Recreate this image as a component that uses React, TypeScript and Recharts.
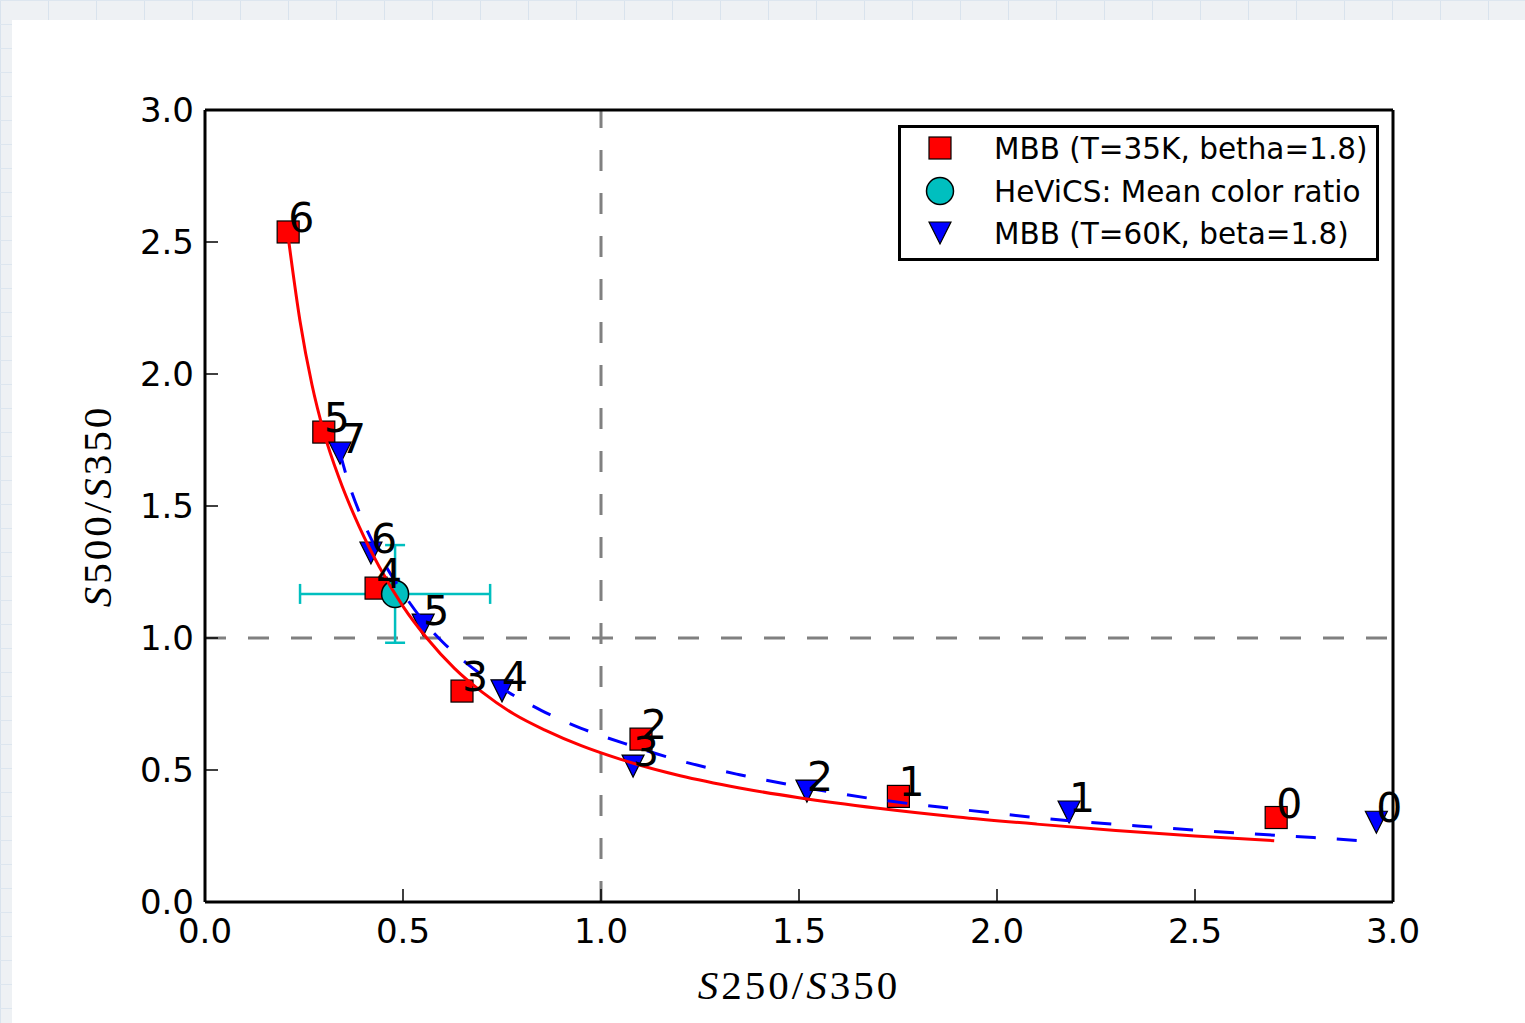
import React from "react";
import { ScatterChart, Scatter, XAxis, YAxis, ReferenceLine, ErrorBar, Legend } from "recharts";

const axisTicks = [0, 0.5, 1, 1.5, 2, 2.5, 3];

// MBB (T=35K, betha=1.8) markers
const mbb35X = [0.21, 0.3, 0.432, 0.649, 1.101, 1.751, 2.705];
const mbb35Y = [2.538, 1.78, 1.189, 0.799, 0.617, 0.4, 0.32];
const mbb35Tags = ["6", "5", "4", "3", "2", "1", "0"];

// MBB (T=60K, beta=1.8) markers
const mbb60X = [0.341, 0.419, 0.551, 0.75, 1.081, 1.52, 2.182, 2.958];
const mbb60Y = [1.7, 1.322, 1.049, 0.8, 0.515, 0.42, 0.341, 0.302];
const mbb60Tags = ["7", "6", "5", "4", "3", "2", "1", "0"];

// model curves
const curve35X = [0.21, 0.24, 0.27, 0.3, 0.34, 0.39, 0.44, 0.5, 0.56, 0.63, 0.7, 0.78, 0.86, 0.95, 1.05, 1.2, 1.35, 1.5, 1.7, 1.9, 2.1, 2.3, 2.5, 2.7];
const curve35Y = [2.52, 2.2, 1.96, 1.78, 1.6, 1.42, 1.27, 1.12, 1.0, 0.885, 0.795, 0.712, 0.65, 0.592, 0.54, 0.478, 0.432, 0.395, 0.355, 0.322, 0.295, 0.271, 0.25, 0.232];
const curve60X = [0.341, 0.36, 0.4, 0.45, 0.5, 0.551, 0.6, 0.66, 0.75, 0.85, 0.95, 1.081, 1.2, 1.35, 1.52, 1.7, 1.9, 2.182, 2.4, 2.6, 2.8, 2.958];
const curve60Y = [1.7, 1.6, 1.44, 1.29, 1.17, 1.065, 0.985, 0.905, 0.81, 0.725, 0.658, 0.59, 0.535, 0.482, 0.432, 0.388, 0.352, 0.308, 0.283, 0.262, 0.244, 0.228];

// HeViCS mean colour ratio with errors
const meanX = [0.48];
const meanY = [1.167];
const meanErrX = [0.24];
const meanErrY = [0.185];

const legendLabels = ["MBB (T=35K, betha=1.8)", "HeViCS: Mean color ratio", "MBB (T=60K, beta=1.8)"];

const RED = "#ff0000";
const BLUE = "#0000ff";
const CYAN = "#00bfbf";

const pts = (xs: number[], ys: number[], tags?: string[]) =>
  xs.map((x, i) => ({ x, y: ys[i], tag: tags ? tags[i] : "" }));

const squares = pts(mbb35X, mbb35Y, mbb35Tags);
const triangles = pts(mbb60X, mbb60Y, mbb60Tags);
const curve35 = pts(curve35X, curve35Y);
const curve60 = pts(curve60X, curve60Y);
const mean = meanX.map((x, i) => ({ x, y: meanY[i], ex: meanErrX[i], ey: meanErrY[i] }));

const Square = (p: any) => (
  <rect x={p.cx - 11} y={p.cy - 11} width={22} height={22} fill={RED} stroke='#000' strokeWidth={1.2} />
);
const TriDown = (p: any) => (
  <polygon
    points={`${p.cx - 11},${p.cy - 11} ${p.cx + 11},${p.cy - 11} ${p.cx},${p.cy + 11}`}
    fill={BLUE}
    stroke='#000'
    strokeWidth={1.2}
  />
);
const Dot = (p: any) => <circle cx={p.cx} cy={p.cy} r={13.5} fill={CYAN} stroke='#000' strokeWidth={1.5} />;
const Tag = (p: any) => (
  <text x={p.cx} y={p.cy} fontSize={41} fontFamily='DejaVu Sans' fill='#000'>
    {p.payload.tag}
  </text>
);
const NoShape = () => <g />;

const mathFont = { fontFamily: "Liberation Serif", fontSize: 41, fill: "#000", letterSpacing: 3 };

const ratioLabel = (a: string, b: string) => [
  <tspan key='s1' fontStyle='italic'>S</tspan>,
  <tspan key='n1'>{a}</tspan>,
  <tspan key='sl'>/</tspan>,
  <tspan key='s2' fontStyle='italic'>S</tspan>,
  <tspan key='n2'>{b}</tspan>,
];

const xLabel = (props: any) => {
  const vb = props.viewBox || { x: 205, y: 902, width: 1188 };
  return (
    <text x={vb.x + vb.width / 2} y={vb.y + 97} textAnchor='middle' {...mathFont}>
      {ratioLabel("250", "350")}
    </text>
  );
};

const yLabel = (props: any) => {
  const vb = props.viewBox || { x: 85, y: 110, height: 792 };
  const x = vb.x + 26;
  const y = vb.y + vb.height / 2;
  return (
    <text x={x} y={y} transform={`rotate(-90, ${x}, ${y})`} textAnchor='middle' {...mathFont}>
      {ratioLabel("500", "350")}
    </text>
  );
};

const legendIcons = [
  <rect key='a' x={28} y={9} width={22} height={22} fill={RED} stroke='#000' strokeWidth={1.2} />,
  <circle key='b' cx={39} cy={63} r={13.5} fill={CYAN} stroke='#000' strokeWidth={1.5} />,
  <polygon key='c' points='28,94 50,94 39,116' fill={BLUE} stroke='#000' strokeWidth={1.2} />,
];

const LegendBox = () => (
  <div style={{ boxSizing: "border-box", width: 481, height: 136, border: "3px solid #000", background: "#fff" }}>
    <svg width={475} height={130} style={{ display: "block" }}>
      {legendIcons}
      {legendLabels.map((l, i) => (
        <text key={l} x={93} y={31 + i * 42.5} fontSize={29.5} fontFamily='DejaVu Sans' fill='#000'>
          {l}
        </text>
      ))}
    </svg>
  </div>
);

const axisLine = { stroke: "#000", strokeWidth: 3 };
const tickLine = { stroke: "#000", strokeWidth: 1.5 };
const tickStyle = { fontSize: 34, fill: "#000", fontFamily: "DejaVu Sans" };
const fmt = (v: number) => v.toFixed(1);

export default function App() {
  return (
    <div
      style={{
        position: "absolute",
        left: 0,
        top: 0,
        width: 1525,
        height: 1023,
        overflow: "hidden",
        backgroundColor: "#eef1f4",
        backgroundImage:
          "linear-gradient(#dde6ef 1px, transparent 1px), linear-gradient(90deg, #d9e3ed 1px, transparent 1px)",
        backgroundSize: "48px 24px",
      }}
    >
      <div style={{ position: "absolute", left: 12, top: 20, width: 1513, height: 1003, background: "#fff" }} />
      <div style={{ position: "absolute", left: 0, top: 0 }}>
        <ScatterChart width={1525} height={1023} margin={{ top: 100, right: 122, bottom: 61, left: 85 }}>
          <XAxis
            xAxisId='b'
            type='number'
            dataKey='x'
            domain={[0, 3]}
            ticks={axisTicks}
            interval={0}
            height={60}
            tickSize={-13}
            tickMargin={30}
            axisLine={axisLine}
            tickLine={tickLine}
            tick={tickStyle}
            tickFormatter={fmt}
            label={xLabel}
          />
          <XAxis
            xAxisId='t'
            orientation='top'
            type='number'
            dataKey='x'
            domain={[0, 3]}
            ticks={axisTicks}
            interval={0}
            height={10}
            tickSize={-13}
            axisLine={axisLine}
            tickLine={tickLine}
            tick={false}
          />
          <YAxis
            yAxisId='l'
            type='number'
            dataKey='y'
            domain={[0, 3]}
            ticks={axisTicks}
            interval={0}
            width={120}
            tickSize={-13}
            tickMargin={24}
            axisLine={axisLine}
            tickLine={tickLine}
            tick={tickStyle}
            tickFormatter={fmt}
            label={yLabel}
          />
          <YAxis
            yAxisId='r'
            orientation='right'
            type='number'
            dataKey='y'
            domain={[0, 3]}
            ticks={axisTicks}
            interval={0}
            width={10}
            tickSize={-13}
            axisLine={axisLine}
            tickLine={tickLine}
            tick={false}
          />
          <ReferenceLine xAxisId='b' yAxisId='l' x={1} stroke='#808080' strokeWidth={3} strokeDasharray='21 22' />
          <ReferenceLine xAxisId='b' yAxisId='l' y={1} stroke='#808080' strokeWidth={3} strokeDasharray='21 22' />
          <Legend
            layout='horizontal'
            verticalAlign='middle'
            align='center'
            content={LegendBox}
            wrapperStyle={{ left: 898, top: 125, width: 481, height: 136 }}
          />
          <Scatter xAxisId='b' yAxisId='l' data={squares} shape={Square} isAnimationActive={false} />
          <Scatter xAxisId='b' yAxisId='l' data={mean} shape={Dot} isAnimationActive={false}>
            <ErrorBar dataKey='ex' direction='x' width={10} stroke={CYAN} strokeWidth={2.5} />
            <ErrorBar dataKey='ey' direction='y' width={10} stroke={CYAN} strokeWidth={2.5} />
          </Scatter>
          <Scatter xAxisId='b' yAxisId='l' data={triangles} shape={TriDown} isAnimationActive={false} />
          <Scatter
            xAxisId='b'
            yAxisId='l'
            data={curve35}
            shape={NoShape}
            line={{ stroke: RED, strokeWidth: 3 }}
            lineJointType='monotoneX'
            isAnimationActive={false}
          />
          <Scatter
            xAxisId='b'
            yAxisId='l'
            data={curve60}
            shape={NoShape}
            line={{ stroke: BLUE, strokeWidth: 3, strokeDasharray: "20 21" }}
            lineJointType='monotoneX'
            isAnimationActive={false}
          />
          <Scatter xAxisId='b' yAxisId='l' data={squares} shape={Tag} isAnimationActive={false} />
          <Scatter xAxisId='b' yAxisId='l' data={triangles} shape={Tag} isAnimationActive={false} />
        </ScatterChart>
      </div>
    </div>
  );
}
